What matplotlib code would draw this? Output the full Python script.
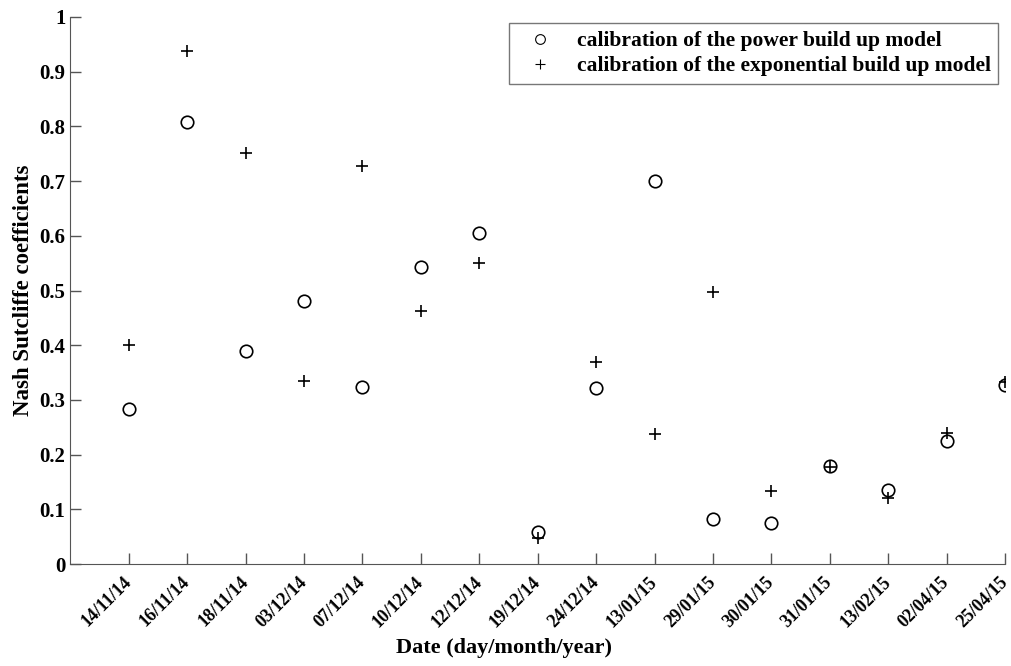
import numpy as np
import matplotlib.pyplot as plt

# data
dates = ['14/11/14', '16/11/14', '18/11/14', '03/12/14', '07/12/14', '10/12/14',
         '12/12/14', '19/12/14', '24/12/14', '13/01/15', '29/01/15', '30/01/15',
         '31/01/15', '13/02/15', '02/04/15', '25/04/15']
power = [0.283, 0.808, 0.390, 0.481, 0.323, 0.543, 0.605, 0.058,
         0.322, 0.701, 0.083, 0.076, 0.180, 0.136, 0.225, 0.328]
expo = [0.400, 0.937, 0.752, 0.335, 0.727, 0.463, 0.550, 0.047,
        0.370, 0.238, 0.498, 0.133, 0.177, 0.120, 0.240, 0.333]

plt.rcParams['font.family'] = ['Liberation Serif', 'DejaVu Serif']
plt.rcParams['font.weight'] = 'bold'

fig = plt.figure(figsize=(10.11, 6.66), dpi=100)
ax = fig.add_axes([0.0697, 0.153, 0.9243, 0.8215])

pos = np.arange(1, len(dates) + 1)
ax.plot(pos, power, 'o', mfc='none', mec='black', ms=9, mew=1.2,
        label='calibration of the power build up model')
ax.plot(pos, expo, '+', color='black', ms=9, mew=1.2,
        label='calibration of the exponential build up model')

ax.set_xlim(0, 16)
ax.set_ylim(0, 1)
ax.set_xticks(pos)
ax.set_xticklabels(dates, rotation=45, ha='right', va='center',
                   rotation_mode='anchor', fontsize=13)
ax.set_yticks(np.arange(0, 1.01, 0.1))
ax.set_yticklabels(['0'] + ['%.1f' % v for v in np.arange(0.1, 0.95, 0.1)] + ['1'], fontsize=15)
ax.tick_params(direction='in', length=8, width=1, color='#555555')
ax.tick_params(axis='x', pad=11)

for s in ['top', 'right']:
    ax.spines[s].set_visible(False)
for s in ['left', 'bottom']:
    ax.spines[s].set_color('#555555')

ax.set_xlabel('Date (day/month/year)', fontsize=16, fontweight='bold')
ax.xaxis.set_label_coords(0.4635, -0.135)
ax.set_ylabel('Nash Sutcliffe coefficients', fontsize=16.5, fontweight='bold')

leg = ax.legend(loc='upper right', fontsize=15.5, frameon=True, fancybox=False,
                edgecolor='#555555', borderaxespad=0.3, handletextpad=0.6,
                labelspacing=0.25, borderpad=0.35, handlelength=2.2)
leg.get_frame().set_linewidth(1)
for h in leg.legend_handles:
    h.set_markersize(7)
    h.set_markeredgewidth(0.8)

fig.savefig('out.png', dpi=100)
